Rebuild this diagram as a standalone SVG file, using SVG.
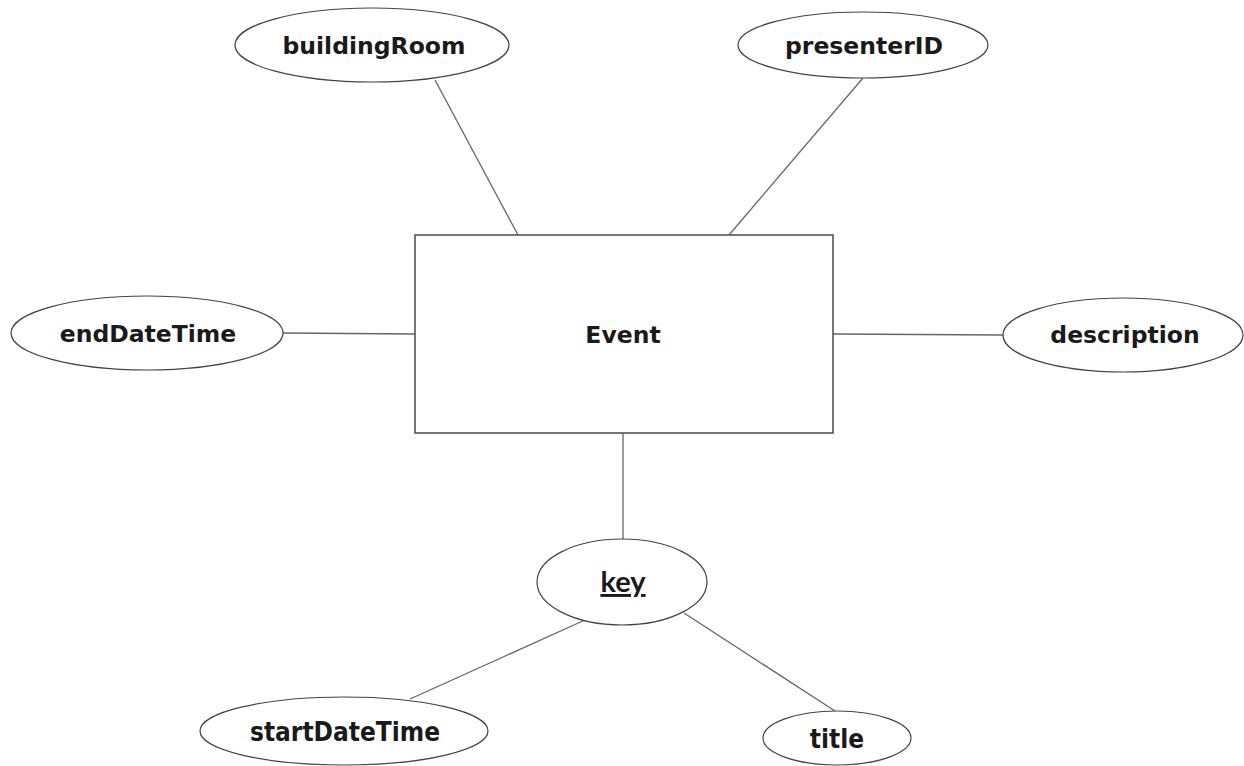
<svg xmlns="http://www.w3.org/2000/svg" width="1244" height="766" viewBox="0 0 1244 766">
<style>
.attr{fill:#fff;stroke:#444;stroke-width:1.2}
.ent{fill:#fff;stroke:#555;stroke-width:1.6}
.lbl{font-family:"DejaVu Sans","Verdana",sans-serif;font-weight:bold;font-size:23.5px;fill:#1a1a1a;text-anchor:middle}
.cnd{font-family:"DejaVu Sans Condensed","DejaVu Sans",sans-serif;font-stretch:condensed;font-weight:bold;font-size:26px;fill:#1a1a1a;text-anchor:middle}
.key{font-family:Lato,"Open Sans",sans-serif;font-weight:bold;font-size:29px;fill:#1a1a1a;text-anchor:middle;text-decoration:underline}
.conn line{stroke:#666;stroke-width:1.3}
</style>
<rect width="1244" height="766" fill="#fff"/>
<g id="connectors" class="conn">
<line x1="435" y1="80" x2="518" y2="235"/>
<line x1="863" y1="78" x2="729" y2="235"/>
<line x1="283" y1="333" x2="415" y2="334"/>
<line x1="833" y1="334" x2="1003" y2="335"/>
<line x1="623" y1="433" x2="623" y2="540"/>
<line x1="585" y1="620" x2="410" y2="699"/>
<line x1="684" y1="613" x2="835" y2="711"/>
</g>
<g id="event">
<rect class="ent" x="415" y="235" width="418" height="198"/>
<text class="lbl" x="623" y="343">Event</text>
</g>
<g id="buildingRoom">
<ellipse class="attr" cx="372" cy="45" rx="137" ry="37"/>
<text class="lbl" x="374" y="54">buildingRoom</text>
</g>
<g id="presenterID">
<ellipse class="attr" cx="863" cy="45" rx="125" ry="33"/>
<text class="lbl" x="864" y="54">presenterID</text>
</g>
<g id="endDateTime">
<ellipse class="attr" cx="147" cy="333" rx="136" ry="37"/>
<text class="lbl" x="148" y="342">endDateTime</text>
</g>
<g id="description">
<ellipse class="attr" cx="1123" cy="335" rx="120" ry="37"/>
<text class="lbl" x="1125" y="343">description</text>
</g>
<g id="key">
<ellipse class="attr" cx="622" cy="582" rx="85" ry="43"/>
<text class="key" x="623" y="592">key</text>
</g>
<g id="startDateTime">
<ellipse class="attr" cx="344" cy="731" rx="144" ry="34"/>
<text class="cnd" x="345" y="741">startDateTime</text>
</g>
<g id="title">
<ellipse class="attr" cx="837" cy="738" rx="74" ry="27"/>
<text class="cnd" x="837" y="748">title</text>
</g>
</svg>
